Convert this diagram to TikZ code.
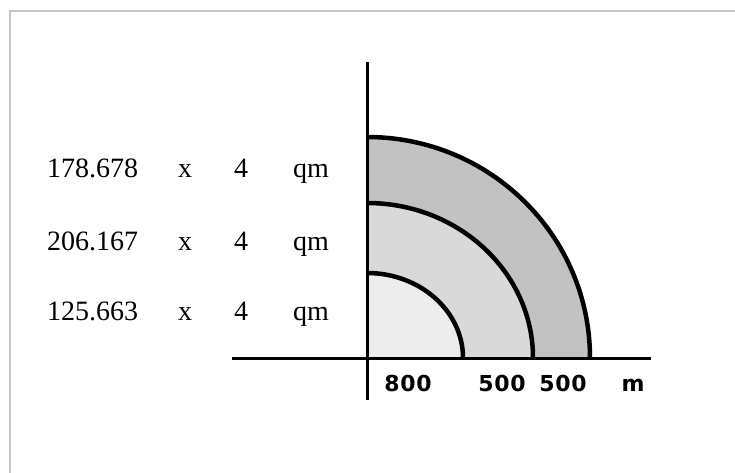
\documentclass[tikz,border=0pt]{standalone}
\usepackage{fontspec}
\setmainfont{Liberation Serif}
\newfontfamily\scalefont[LetterSpace=3]{DejaVu Sans Bold}
\usetikzlibrary{positioning}

\definecolor{ringout}{gray}{0.76}
\definecolor{ringmid}{gray}{0.85}
\definecolor{ringin}{gray}{0.93}
\definecolor{framegray}{gray}{0.78}

\begin{document}
\begin{tikzpicture}[
    x=1pt, y=-1pt,
    axis/.style={line width=3pt},
    ring/.style={line width=4.5pt},
    area/.style={inner sep=0pt,font=\fontsize{28}{32}\selectfont},
    scl/.style={inner sep=0pt,font=\scalefont\fontsize{22}{26}\selectfont}
]
    \useasboundingbox (0,0) rectangle (735,473);
    \draw[framegray,line width=2pt] (10,473) -- (10,11) -- (735,11);
    % rings
    \coordinate (o) at (367,358);
    \fill[ringout] (o) -- ++(223,0) arc[start angle=0,end angle=-90,x radius=223,y radius=221] -- cycle;
    \fill[ringmid] (o) -- ++(166,0) arc[start angle=0,end angle=-90,x radius=166,y radius=155] -- cycle;
    \fill[ringin] (o) -- ++(96,0) arc[start angle=0,end angle=-90,x radius=96,y radius=85] -- cycle;
    \draw[ring] (367,273) arc[start angle=-90,end angle=0,x radius=96,y radius=85];
    \draw[ring] (367,203) arc[start angle=-90,end angle=0,x radius=166,y radius=155];
    \draw[ring] (367,137) arc[start angle=-90,end angle=0,x radius=223,y radius=221];
    % axes
    \coordinate (ytop) at (367,62);
    \coordinate (ybot) at (367,400);
    \coordinate (xleft) at (232,358);
    \coordinate (xright) at (651,358);
    \draw[axis] (ytop) -- (ybot);
    \draw[axis] (xleft) -- (xright);
    % areas
    \node[area,anchor=base west] (n1) at (47,178) {178.678};
    \node[area,anchor=base] (x1) at (185,178) {x};
    \node[area,anchor=base] (f1) at (241,178) {4};
    \node[area,anchor=base] (q1) at (311,178) {qm};
    \node[area,anchor=base west] (n2) at (47,250) {206.167};
    \node[area,anchor=base] (x2) at (185,250) {x};
    \node[area,anchor=base] (f2) at (241,250) {4};
    \node[area,anchor=base] (q2) at (311,250) {qm};
    \node[area,anchor=base west] (n3) at (47,320) {125.663};
    \node[area,anchor=base] (x3) at (185,320) {x};
    \node[area,anchor=base] (f3) at (241,320) {4};
    \node[area,anchor=base] (q3) at (311,320) {qm};
    % distances
    \node[scl,anchor=base] (d1) at (408,391) {800};
    \node[scl,anchor=base] (d2) at (502,391) {500};
    \node[scl,anchor=base] (d3) at (563,391) {500};
    \node[scl,anchor=base] (unit) at (633,391) {m};
\end{tikzpicture}
\end{document}
